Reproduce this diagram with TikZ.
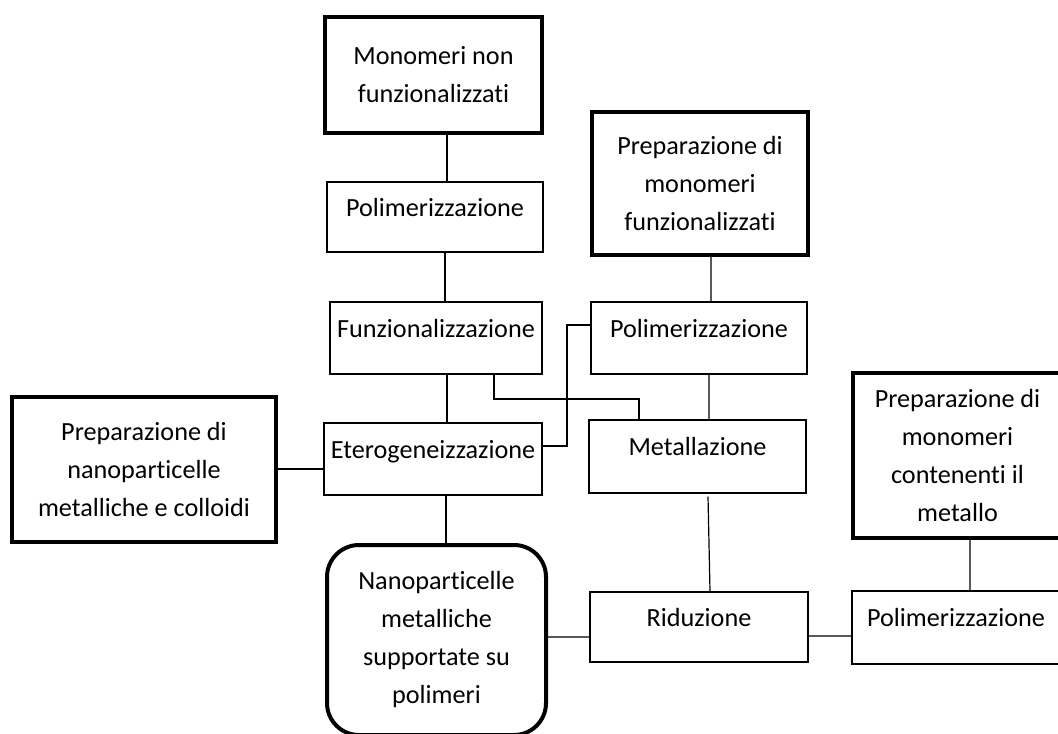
\documentclass[tikz,border=0pt]{standalone}
\usepackage{fontspec}
\setmainfont[Ligatures=NoCommon]{Carlito}

\begin{document}
\begin{tikzpicture}[x=0.5pt, y=-0.5pt,
    font=\fontsize{13.1}{19}\selectfont,
    stepbox/.style={shape=rectangle, draw=black, fill=white, line width=0.65pt,
      inner sep=0pt, text height=9.5pt, text depth=10.5pt},
    sourcebox/.style={shape=rectangle, draw=black, fill=white, line width=2pt,
      inner sep=0pt, align=center},
    resultbox/.style={sourcebox, rounded corners=16pt},
    link/.style={line width=0.6pt}]
          \useasboundingbox[fill=white] (0,0) rectangle (1058,733);

          % nodes
          \node[sourcebox, minimum width=108.5pt, minimum height=58pt] at (433.5,75)
          (mono) {Monomeri non\\funzionalizzati};
          \node[stepbox, minimum width=108pt, minimum height=35pt] at (435,217)
          (polA) {Polimerizzazione};
          \node[stepbox, minimum width=106pt, minimum height=36pt] at (436,338)
          (funz) {Funzionalizzazione};
          \node[stepbox, minimum width=109pt, minimum height=36pt] at (433,459)
          (eter) {Eterogeneizzazione};
          \node[sourcebox, minimum width=132pt, minimum height=72.5pt] at (144,469.5)
          (prepnano) {Preparazione di\\nanoparticelle\\metalliche e colloidi};
          \node[resultbox, minimum width=109.5pt, minimum height=95pt] at (436.5,640)
          (nano) {Nanoparticelle\\metalliche\\supportate su\\polimeri};
          \node[sourcebox, minimum width=108pt, minimum height=71.5pt] at (700,183.5)
          (prepfunz) {Preparazione di\\monomeri\\funzionalizzati};
          \node[stepbox, minimum width=108pt, minimum height=36pt] at (699,338)
          (polB) {Polimerizzazione};
          \node[stepbox, minimum width=108.5pt, minimum height=36.5pt] at (697.5,456.5)
          (metal) {Metallazione};
          \node[stepbox, minimum width=109pt, minimum height=35pt] at (699,627)
          (rid) {Riduzione};
          \node[sourcebox, minimum width=104.5pt, minimum height=82.5pt] at (957.5,455.5)
          (prepmet) {Preparazione di\\monomeri\\contenenti il\\metallo};
          \node[stepbox, minimum width=104pt, minimum height=36.5pt] at (956,627.5)
          (polC) {Polimerizzazione};

          % arcs
          \draw[link]
          (mono.south -| 447,0) -- (polA.north -| 447,0)
          (polA.south -| 445,0) -- (funz.north -| 445,0)
          (funz.south -| 447,0) -- (eter.north -| 447,0)
          (eter.south -| 446,0) -- (nano.north -| 446,0)
          (prepnano.east |- 0,469) -- (eter.west |- 0,469)
          (funz.south -| 494,0) |- (639,399) -- (metal.north -| 639,0)
          (eter.east |- 0,446) -| (567,325) -- (polB.west |- 0,325)
          ;
          \draw[link]
          (prepfunz.south -| 711,0) -- (polB.north -| 711,0)
          (polB.south -| 709,0) -- (metal.north -| 709,0)
          ([yshift=-1.5pt]metal.south -| 708,0) -- (rid.north -| 710,0)
          (nano.east |- 0,637) -- (rid.west |- 0,637)
          (rid.east |- 0,636) -- (polC.west |- 0,636)
          (prepmet.south -| 970,0) -- (polC.north -| 970,0)
          ;
        \end{tikzpicture}
\end{document}
